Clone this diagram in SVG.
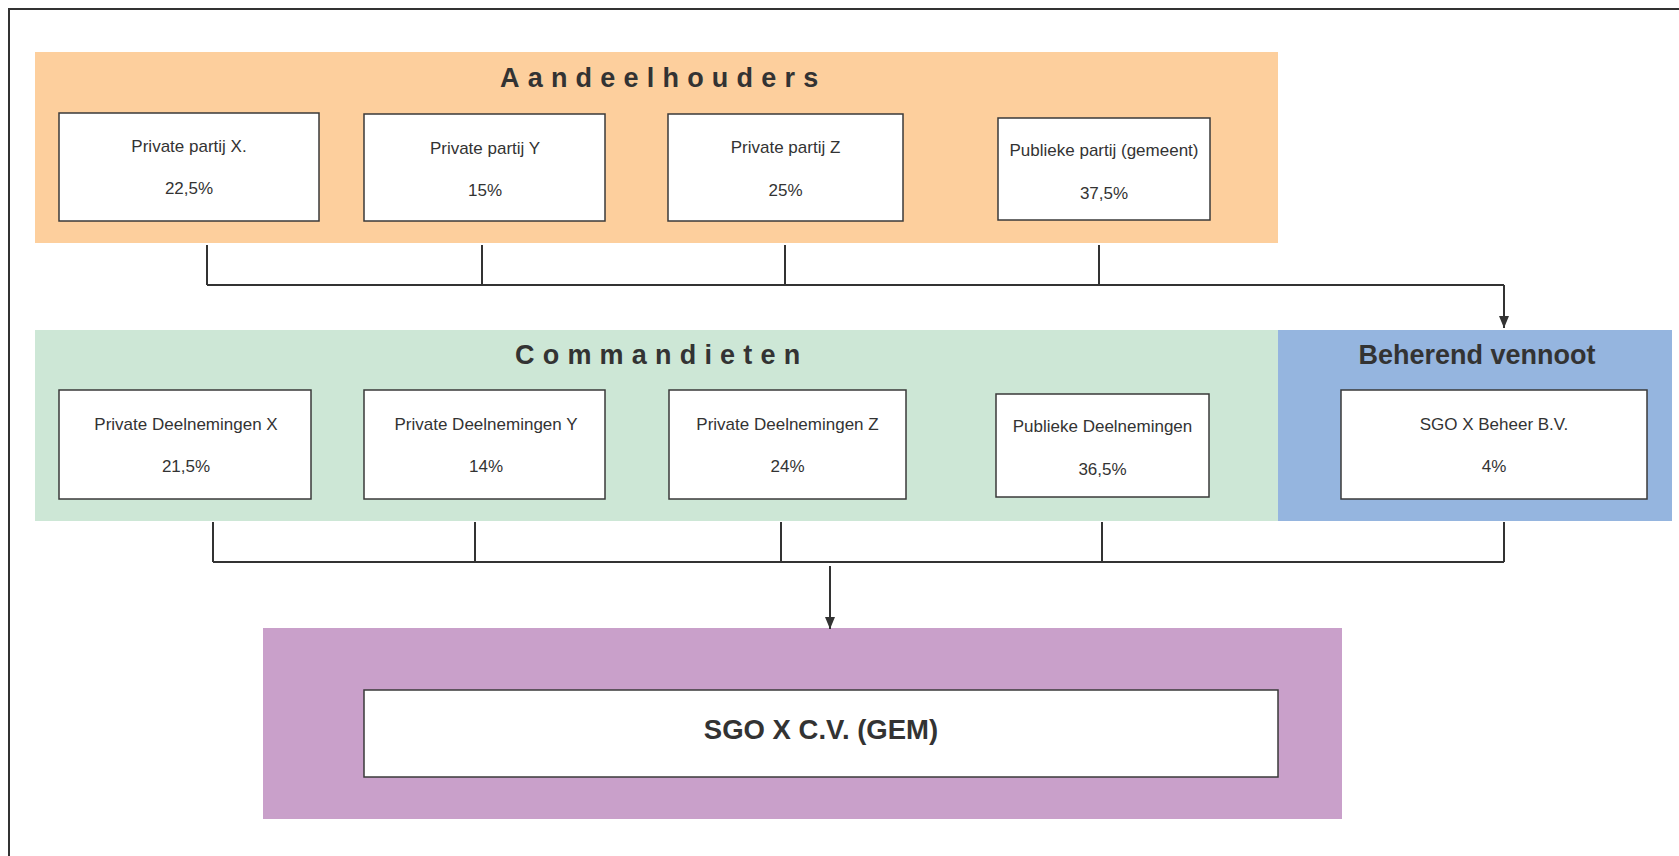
<svg xmlns="http://www.w3.org/2000/svg" width="1679" height="856" viewBox="0 0 1679 856">
<defs>
<marker id="arr" viewBox="0 0 12 10" refX="12" refY="5" markerWidth="12" markerHeight="10" markerUnits="userSpaceOnUse" orient="auto">
<path d="M0,0 L12,5 L0,10 Z" fill="#333"/>
</marker>
<style>
.frame{fill:none;stroke:#333;stroke-width:2}
.box{fill:#fff;stroke:#3a3a3a;stroke-width:1.5}
.t{font-family:"Liberation Sans",Arial,sans-serif;font-size:17px;fill:#333;text-anchor:middle}
.h{font-family:"Liberation Sans",Arial,sans-serif;font-size:27px;font-weight:bold;fill:#333}
.sp{letter-spacing:8.2px}
.c{fill:none;stroke:#333;stroke-width:2}
</style>
</defs>
<rect width="1679" height="856" fill="#fff"/>
<rect class="frame" x="9" y="9" width="1720" height="900"/>

<g id="aandeelhouders">
<rect x="35" y="52" width="1243" height="191" fill="#FDCF9D"/>
<text class="h sp" x="500" y="87">Aandeelhouders</text>
</g>
<g id="commandieten">
<rect x="35" y="330" width="1243" height="191" fill="#CDE7D6"/>
<text class="h sp" x="515" y="364">Commandieten</text>
</g>
<g id="beherend">
<rect x="1278" y="330" width="394" height="191" fill="#95B5DF"/>
<text class="h" x="1477" y="364" text-anchor="middle">Beherend vennoot</text>
</g>
<g id="gem">
<rect x="263" y="628" width="1079" height="191" fill="#C9A0CA"/>
</g>

<g id="partij-x">
<rect class="box" x="59" y="113" width="260" height="108"/>
<text class="t" x="189" y="152">Private partij X.</text>
<text class="t" x="189" y="194">22,5%</text>
</g>
<g id="partij-y">
<rect class="box" x="364" y="114" width="241" height="107"/>
<text class="t" x="485" y="154">Private partij Y</text>
<text class="t" x="485" y="196">15%</text>
</g>
<g id="partij-z">
<rect class="box" x="668" y="114" width="235" height="107"/>
<text class="t" x="785.5" y="153">Private partij Z</text>
<text class="t" x="785.5" y="196">25%</text>
</g>
<g id="publieke-partij">
<rect class="box" x="998" y="118" width="212" height="102"/>
<text class="t" x="1104" y="156">Publieke partij (gemeent)</text>
<text class="t" x="1104" y="199">37,5%</text>
</g>

<g id="deelnemingen-x">
<rect class="box" x="59" y="390" width="252" height="109"/>
<text class="t" x="186" y="430">Private Deelnemingen X</text>
<text class="t" x="186" y="472">21,5%</text>
</g>
<g id="deelnemingen-y">
<rect class="box" x="364" y="390" width="241" height="109"/>
<text class="t" x="486" y="430">Private Deelnemingen Y</text>
<text class="t" x="486" y="472">14%</text>
</g>
<g id="deelnemingen-z">
<rect class="box" x="669" y="390" width="237" height="109"/>
<text class="t" x="787.5" y="430">Private Deelnemingen Z</text>
<text class="t" x="787.5" y="472">24%</text>
</g>
<g id="publieke-deelnemingen">
<rect class="box" x="996" y="394" width="213" height="103"/>
<text class="t" x="1102.5" y="432">Publieke Deelnemingen</text>
<text class="t" x="1102.5" y="475">36,5%</text>
</g>
<g id="sgo-beheer">
<rect class="box" x="1341" y="390" width="306" height="109"/>
<text class="t" x="1494" y="430">SGO X Beheer B.V.</text>
<text class="t" x="1494" y="472">4%</text>
</g>
<g id="sgo-cv">
<rect class="box" x="364" y="690" width="914" height="87"/>
<text class="h" x="821" y="739" text-anchor="middle" style="font-size:27.5px">SGO X C.V. (GEM)</text>
</g>

<g id="connectors">
<path class="c" d="M207,245 V285 M482,245 V285 M785,245 V285 M1099,245 V285 M207,285 H1504"/>
<path class="c" d="M1504,285 V328" marker-end="url(#arr)"/>
<path class="c" d="M213,522 V562 M475,522 V562 M781,522 V562 M1102,522 V562 M1504,522 V562 M213,562 H1504"/>
<path class="c" d="M830,566 V629" marker-end="url(#arr)"/>
</g>
</svg>
